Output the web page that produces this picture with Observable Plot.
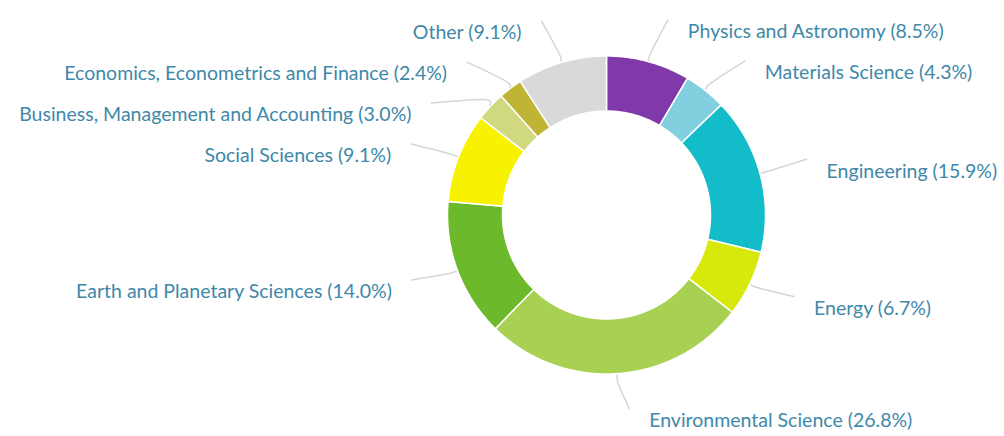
<!DOCTYPE html>
<html>
<head>
<meta charset="utf-8">
<script src="https://cdn.jsdelivr.net/npm/d3@7"></script>
<script src="https://cdn.jsdelivr.net/npm/@observablehq/plot@0.6"></script>
<style>
  html, body { margin: 0; padding: 0; background: #ffffff; }
  #chart svg { display: block; }
</style>
</head>
<body>
<div id="chart"></div>
<script>
// ---- data ----
const categories = [
  "Physics and Astronomy",
  "Materials Science",
  "Engineering",
  "Energy",
  "Environmental Science",
  "Earth and Planetary Sciences",
  "Social Sciences",
  "Business, Management and Accounting",
  "Economics, Econometrics and Finance",
  "Other"
];
const shares = [8.5, 4.3, 15.9, 6.7, 26.8, 14.0, 9.1, 3.0, 2.4, 9.1];
const colors = [
  "#8039a8", "#82d0df", "#12bcc8", "#d6e80c", "#a8d052",
  "#6cb92c", "#f7f200", "#d0d880", "#c0b434", "#d9d9d9"
];

// ---- layout ----
const W = 1004, H = 436;
const CX = 606, CY = 214.5;
const R_OUT = 159, R_IN = 104;
const LABEL_R = 198, LABEL_DY = 8, LABEL_GAP = 29, MIN_SPACING = 41;
const TEXT_COLOR = "#4088a8";
const LEADER_COLOR = "#d6d6d6";
const FONT_SIZE = 19.5;

const total = d3.sum(shares);
let acc = 0;
const slices = categories.map((name, i) => {
  const a0 = acc / total * 2 * Math.PI;
  acc += shares[i];
  const a1 = acc / total * 2 * Math.PI;
  return {name, value: shares[i], color: colors[i], a0, a1, mid: (a0 + a1) / 2};
});

const polar = (r, a) => ({x: r * Math.sin(a), y: -r * Math.cos(a)});

// slice polygons
slices.forEach(s => {
  const n = Math.max(2, Math.ceil((s.a1 - s.a0) / (Math.PI / 360)));
  const pts = [];
  for (let k = 0; k <= n; k++) pts.push(polar(R_OUT, s.a0 + (s.a1 - s.a0) * k / n));
  for (let k = n; k >= 0; k--) pts.push(polar(R_IN, s.a0 + (s.a1 - s.a0) * k / n));
  s.points = pts.map(p => ({...p, name: s.name}));
});

// label placement: natural position on a circle, then push apart per side
slices.forEach(s => {
  s.side = Math.sin(s.mid) >= 0 ? 1 : -1;
  s.ly = LABEL_DY - LABEL_R * Math.cos(s.mid);
});
[1, -1].forEach(side => {
  const group = slices.filter(s => s.side === side).sort((a, b) => a.ly - b.ly);
  for (let i = 1; i < group.length; i++) {
    group[i].ly = Math.max(group[i].ly, group[i - 1].ly + MIN_SPACING);
  }
});
slices.forEach(s => {
  const dy = s.ly - LABEL_DY;
  const off = Math.sqrt(Math.max(0, LABEL_R * LABEL_R - dy * dy)) + LABEL_GAP;
  s.lx = s.side * off;
  s.label = `${s.name} (${s.value.toFixed(1)}%)`;
  const e = {x: s.side * (off - 20), y: s.ly - 12};
  s.leader = [polar(R_OUT + 1, s.mid), polar(R_OUT + 10, s.mid), e].map(p => ({...p, name: s.name}));
});

const rightLabels = slices.filter(s => s.side === 1);
const leftLabels = slices.filter(s => s.side === -1);

const chart = Plot.plot({
  width: W,
  height: H,
  margin: 0,
  x: {domain: [-CX, W - CX], axis: null},
  y: {domain: [-CY, H - CY], range: [0, H], axis: null},
  style: {background: "#ffffff", fontFamily: "Lato, 'Open Sans', sans-serif"},
  marks: [
    ...slices.map(s => Plot.line(s.leader, {
      x: "x", y: "y", stroke: LEADER_COLOR, strokeWidth: 1.5, curve: "natural"
    })),
    ...slices.map(s => Plot.line(s.points, {
      x: "x", y: "y", fill: s.color, stroke: "#ffffff", strokeWidth: 1.5,
      curve: "linear-closed", title: () => s.name
    })),
    Plot.text(rightLabels, {
      x: "lx", y: "ly", text: "label", textAnchor: "start",
      fill: TEXT_COLOR, fontSize: FONT_SIZE, fontFamily: "Lato"
    }),
    Plot.text(leftLabels, {
      x: "lx", y: "ly", text: "label", textAnchor: "end",
      fill: TEXT_COLOR, fontSize: FONT_SIZE, fontFamily: "Lato"
    })
  ]
});
document.getElementById("chart").appendChild(chart);
</script>
</body>
</html>
